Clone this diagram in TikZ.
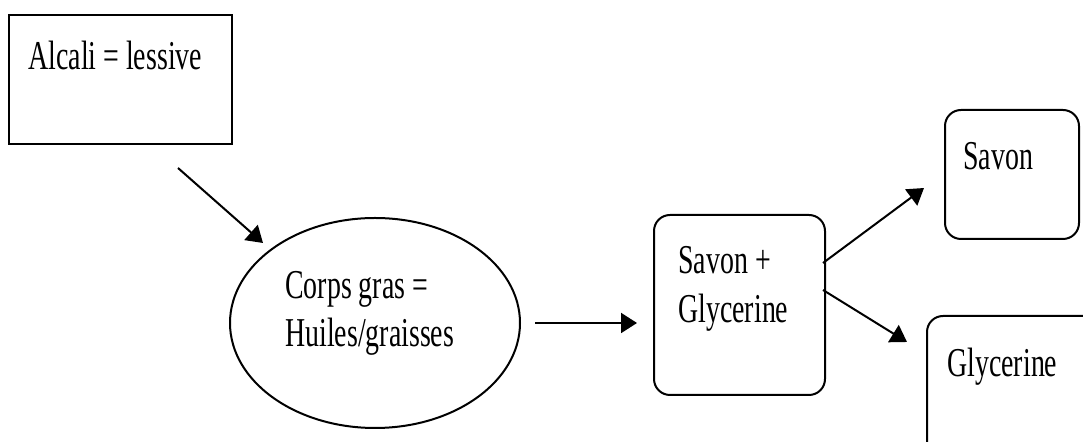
\documentclass[tikz,border=0pt]{standalone}
\usepackage{fontspec}
\newfontfamily\tf[FakeStretch=0.68]{Liberation Serif}
\usetikzlibrary{arrows.meta,shapes.geometric}
\tikzset{
  box/.style={draw, line width=1pt, inner sep=0pt, anchor=north west},
  rbox/.style={box, rounded corners=8pt},
  txt/.style={anchor=base west, inner sep=0pt, font=\tf\fontsize{20.5pt}{24pt}\selectfont},
  arr/.style={line width=1pt, -{Triangle[length=8pt,width=10pt]}}
}
\begin{document}
\begin{tikzpicture}[x=0.5pt,y=-0.5pt]
\useasboundingbox (0,0) rectangle (1083,442);
\clip (0,0) rectangle (1083,442);
% shapes
\node[box, minimum width=111.5pt, minimum height=64.5pt] (alcali) at (8,14) {};
\node[draw, line width=1pt, ellipse, inner sep=0pt, minimum width=145pt, minimum height=105pt] (corps) at (375,323) {};
\node[rbox, minimum width=85.5pt, minimum height=90pt] (mix) at (653,214) {};
\node[rbox, minimum width=67pt, minimum height=64.5pt] (savon) at (944,109) {};
\node[rbox, minimum width=100pt, minimum height=80pt] (glyc) at (926,315) {};
% texts
\node[txt] (talcali) at (28,70) {Alcali = lessive};
\node[txt] (tcorps1) at (285,299) {Corps gras =};
\node[txt] (tcorps2) at (285,347) {Huiles/graisses};
\node[txt] (tmix1) at (678,274) {Savon +};
\node[txt] (tmix2) at (678,323) {Glycerine};
\node[txt] (tsavon) at (963,170) {Savon};
\node[txt] (tglyc) at (947,377) {Glycerine};
% arrow ends
\coordinate (a1s) at (178,168);
\coordinate (a1e) at (263,243);
\coordinate (a2s) at (535,323);
\coordinate (a2e) at (637,323);
\coordinate (a3s) at (823,263);
\coordinate (a3e) at (924,188);
\coordinate (a4s) at (823,290);
\coordinate (a4e) at (907,342);
\draw[arr] (a1s) -- (a1e);
\draw[arr] (a2s) -- (a2e);
\draw[arr] (a3s) -- (a3e);
\draw[arr] (a4s) -- (a4e);
\end{tikzpicture}
\end{document}
